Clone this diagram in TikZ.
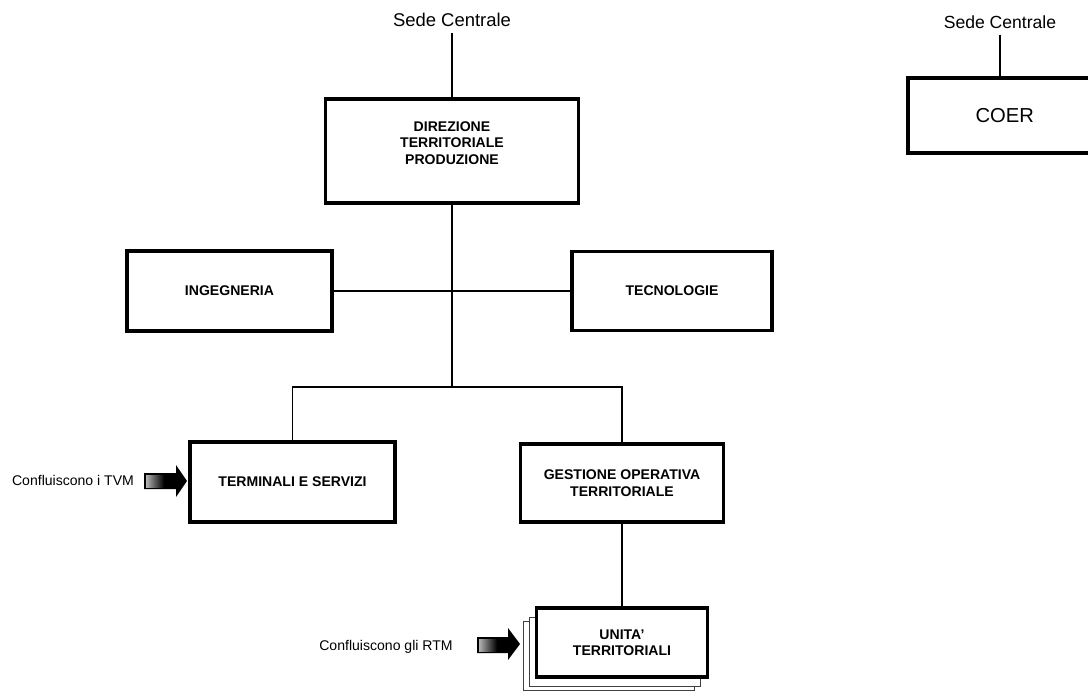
\documentclass[tikz,border=0pt]{standalone}
\usepackage{fontspec}
\setmainfont{Liberation Sans}
\usetikzlibrary{calc}
\begin{document}
\begin{tikzpicture}[x=0.02cm, y=-0.02cm,
		box/.style={draw=black, line width=2pt, fill=white, align=center, inner sep=2pt, font=\fontsize{8}{9.4}\selectfont\bfseries},
		page/.style={draw=black!75, line width=0.5pt, fill=white, minimum width=3.42cm, minimum height=1.38cm},
		link/.style={draw=black, line width=0.6pt},
		note/.style={font=\fontsize{8}{9.4}\selectfont}]
	\useasboundingbox (0,0) rectangle (1088,693);
	% left chart
	\node[font=\fontsize{10.5}{12}\selectfont] (sede) at (452,20) {Sede Centrale};
	\node[box, minimum width=5.06cm, minimum height=2.08cm] (dir) at (452,151) {DIREZIONE\\TERRITORIALE\\PRODUZIONE\\~};
	\node[box, minimum width=4.1cm, minimum height=1.6cm] (ing) at (229.5,291) {INGEGNERIA};
	\node[box, minimum width=4.0cm, minimum height=1.58cm] (tec) at (672,291) {TECNOLOGIE};
	\coordinate (split) at (452,387);
	\node[box, minimum width=4.1cm, minimum height=1.6cm] (term) at (292.5,482) {TERMINALI E SERVIZI};
	\node[box, minimum width=4.06cm, minimum height=1.56cm] (gest) at (622,483) {GESTIONE OPERATIVA\\TERRITORIALE};
	\node[page] (unitac) at (608.5,655.5) {};
	\node[page] (unitab) at (614.5,651.5) {};
	\node[box, minimum width=3.42cm, minimum height=1.38cm] (unita) at (622,642.5) {UNITA'\\TERRITORIALI};
	\draw[link] (sede.south) -- (sede.south |- dir.north);
	\draw[link] (dir.south) -- (split);
	\draw[link] (ing.east) -- (tec.west);
	\draw[link] (term.north) |- (split) -| (gest.north);
	\draw[link] (gest.south) -- (unita.north);
	% incoming arrows
	\node[note] (tvm) at (73,480) {Confluiscono i TVM};
	\coordinate (tvmtip) at (187,481);
	\fill[black] (tvmtip) -- ++(-11,-16) -- ++(0,8) -- ++(-32,0) -- ++(0,16) -- ++(32,0) -- ++(0,8) -- cycle;
	\shade[left color=gray!60, right color=black] ($(tvmtip)+(-41,-6)$) rectangle ++(18,12);
	\node[note] (rtm) at (386,647) {Confluiscono gli RTM};
	\coordinate (rtmtip) at (520,644);
	\fill[black] (rtmtip) -- ++(-12,-16) -- ++(0,9) -- ++(-31,0) -- ++(0,16) -- ++(31,0) -- ++(0,7) -- cycle;
	\shade[left color=gray!60, right color=black] ($(rtmtip)+(-41,-5)$) rectangle ++(18,12);
	% right chart
	\node[font=\fontsize{10}{12}\selectfont] (sede2) at (1000,22) {Sede Centrale};
	\node[box, anchor=west, font=\fontsize{11.5}{13}\selectfont, minimum width=4.2cm, minimum height=1.5cm] (coer) at (906,115.5) {COER\hspace*{0.32cm}};
	\draw[link] (sede2.south) -- (sede2.south |- coer.north);
\end{tikzpicture}
\end{document}
